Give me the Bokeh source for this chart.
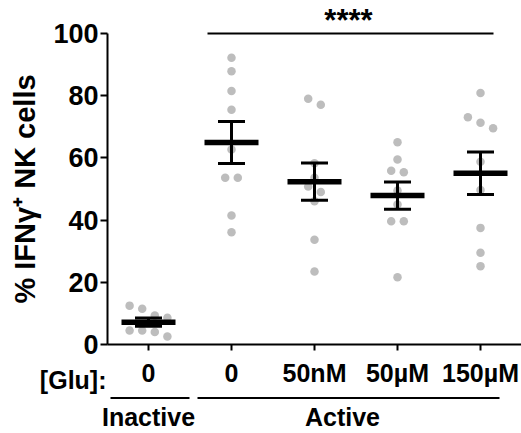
import numpy as np
from bokeh.plotting import figure
from bokeh.models import Range1d, FixedTicker
from bokeh.core.properties import value
from bokeh.embed import file_html
from bokeh.resources import INLINE

# ---- data ----
tick_labels = ["0", "0", "50nM", "50µM", "150µM"]
inactive = [12.5, 11.5, 9.3, 8.6, 4.5, 4.5, 4.0, 2.6]
active_0 = [92.2, 87.9, 81.5, 75.5, 62.7, 53.6, 53.6, 41.5, 36.1]
active_50nM = [79.0, 77.1, 58.3, 53.6, 50.8, 49.0, 46.1, 33.7, 23.5]
active_50uM = [65.0, 59.5, 55.9, 55.4, 49.5, 45.0, 39.6, 39.6, 21.6]
active_150uM = [80.9, 73.1, 71.3, 69.5, 58.8, 49.7, 37.5, 29.5, 25.2]
groups = [inactive, active_0, active_50nM, active_50uM, active_150uM]
y_ticks = [0, 20, 40, 60, 80, 100]
y_label = "% IFNγ⁺ NK cells"
glu_label = "[Glu]:"
cond_labels = ["Inactive", "Active"]
stars = "****"

FONT = "Liberation Sans"
W, H = 521, 433
PX_PER_X = 83.0      # pixels per group
PX_PER_Y = 3.11      # pixels per percent
G0_PX = 148.0        # pixel x of first group
ZERO_PX = 344.0      # pixel y of 0 %
TXT = 8              # text glyph baseline correction (px)

x0 = -G0_PX / PX_PER_X
x1 = (W - G0_PX) / PX_PER_X
y0 = -(H - ZERO_PX) / PX_PER_Y
y1 = ZERO_PX / PX_PER_Y

def xd(px):
    return (px - G0_PX) / PX_PER_X

def yd(py):
    return (ZERO_PX - py) / PX_PER_Y

p = figure(width=W, height=H, output_backend="svg", toolbar_location=None,
           x_range=Range1d(x0, x1), y_range=Range1d(y0, y1),
           min_border_left=0, min_border_right=0, min_border_top=0,
           min_border_bottom=0)
p.outline_line_color = None
p.grid.visible = False
p.background_fill_color = "white"
p.border_fill_color = "white"

# swarm offsets computed from values
def swarm(vals, diam_px=8.5, step_px=12.6):
    order = np.argsort(vals)[::-1]
    offs = np.zeros(len(vals))
    rows, cur = [], [order[0]]
    for a, b in zip(order[:-1], order[1:]):
        if (vals[a] - vals[b]) * PX_PER_Y < diam_px:
            cur.append(b)
        else:
            rows.append(cur)
            cur = [b]
    rows.append(cur)
    for r in rows:
        n = len(r)
        for i, idx in enumerate(r):
            offs[idx] = (i - (n - 1) / 2) * step_px / PX_PER_X
    return offs

xs, ys = [], []
for gi, g in enumerate(groups):
    v = np.array(g, dtype=float)
    xs.extend(gi + swarm(v))
    ys.extend(v)
p.scatter(xs, ys, size=8.5, color="#bdbdbd", line_color=None)

m = np.array([np.mean(g) for g in groups])
s = np.array([np.std(g, ddof=1) / np.sqrt(len(g)) for g in groups])
gx = np.arange(len(groups))
mw = 27 / PX_PER_X
cw = 13.5 / PX_PER_X
p.segment(gx - mw, m, gx + mw, m, line_width=5.5, color="black", line_cap="butt")
p.segment(gx, m - s, gx, m + s, line_width=3, color="black", line_cap="butt")
p.segment(gx - cw, m + s, gx + cw, m + s, line_width=3, color="black", line_cap="butt")
p.segment(gx - cw, m - s, gx + cw, m - s, line_width=3, color="black", line_cap="butt")

# significance bar
p.segment([xd(207)], [100], [xd(493)], [100], line_width=2, color="black")
p.text([xd(348)], [yd(20)], text=[stars], text_font=value(FONT), text_font_style="bold",
       text_font_size="31px", text_align="center", text_baseline="alphabetic",
       color="black")

# axes drawn at fixed data locations inside the frame
p.yaxis.fixed_location = xd(107)
p.xaxis.fixed_location = 0
p.yaxis.ticker = FixedTicker(ticks=y_ticks)
p.yaxis.bounds = (0, 100)
p.xaxis.ticker = FixedTicker(ticks=list(range(len(groups))))
p.xaxis.bounds = (xd(107), x1)
p.xaxis.major_label_overrides = {i: t for i, t in enumerate(tick_labels)}
for ax in (p.xaxis, p.yaxis):
    ax.axis_line_width = 2
    ax.axis_line_color = "black"
    ax.major_tick_line_width = 2
    ax.major_tick_line_color = "black"
    ax.major_tick_in = 0
    ax.minor_tick_line_color = None
    ax.major_label_text_font = FONT
    ax.major_label_text_font_style = "bold"
    ax.major_label_text_color = "black"
p.xaxis.major_label_text_font_size = "25px"
p.yaxis.major_label_text_font_size = "27px"
p.yaxis.major_tick_out = 7
p.xaxis.major_tick_out = 6
p.yaxis.major_label_standoff = 2
p.xaxis.major_label_standoff = 8
p.yaxis.axis_label = y_label
p.yaxis.axis_label_text_font = FONT
p.yaxis.axis_label_text_font_style = "bold"
p.yaxis.axis_label_text_font_size = "29px"
p.yaxis.axis_label_text_color = "black"
p.yaxis.axis_label_standoff = 9

# condition annotations below the axis
p.text([xd(106)], [yd(387 - TXT)], text=[glu_label], text_font=value(FONT),
       text_font_style="bold", text_font_size="25px", text_align="right",
       text_baseline="alphabetic", color="black")
p.segment([xd(110), xd(197)], [yd(397.5)] * 2, [xd(189), xd(499)], [yd(397.5)] * 2,
          line_width=2, color="black")
p.text([0.0, xd(342)], [yd(425 - TXT - 1)] * 2, text=cond_labels, text_font=value(FONT),
       text_font_style="bold", text_font_size="25px", text_align="center",
       text_baseline="alphabetic", color="black")

open("out.html", "w").write(file_html(p, INLINE))
